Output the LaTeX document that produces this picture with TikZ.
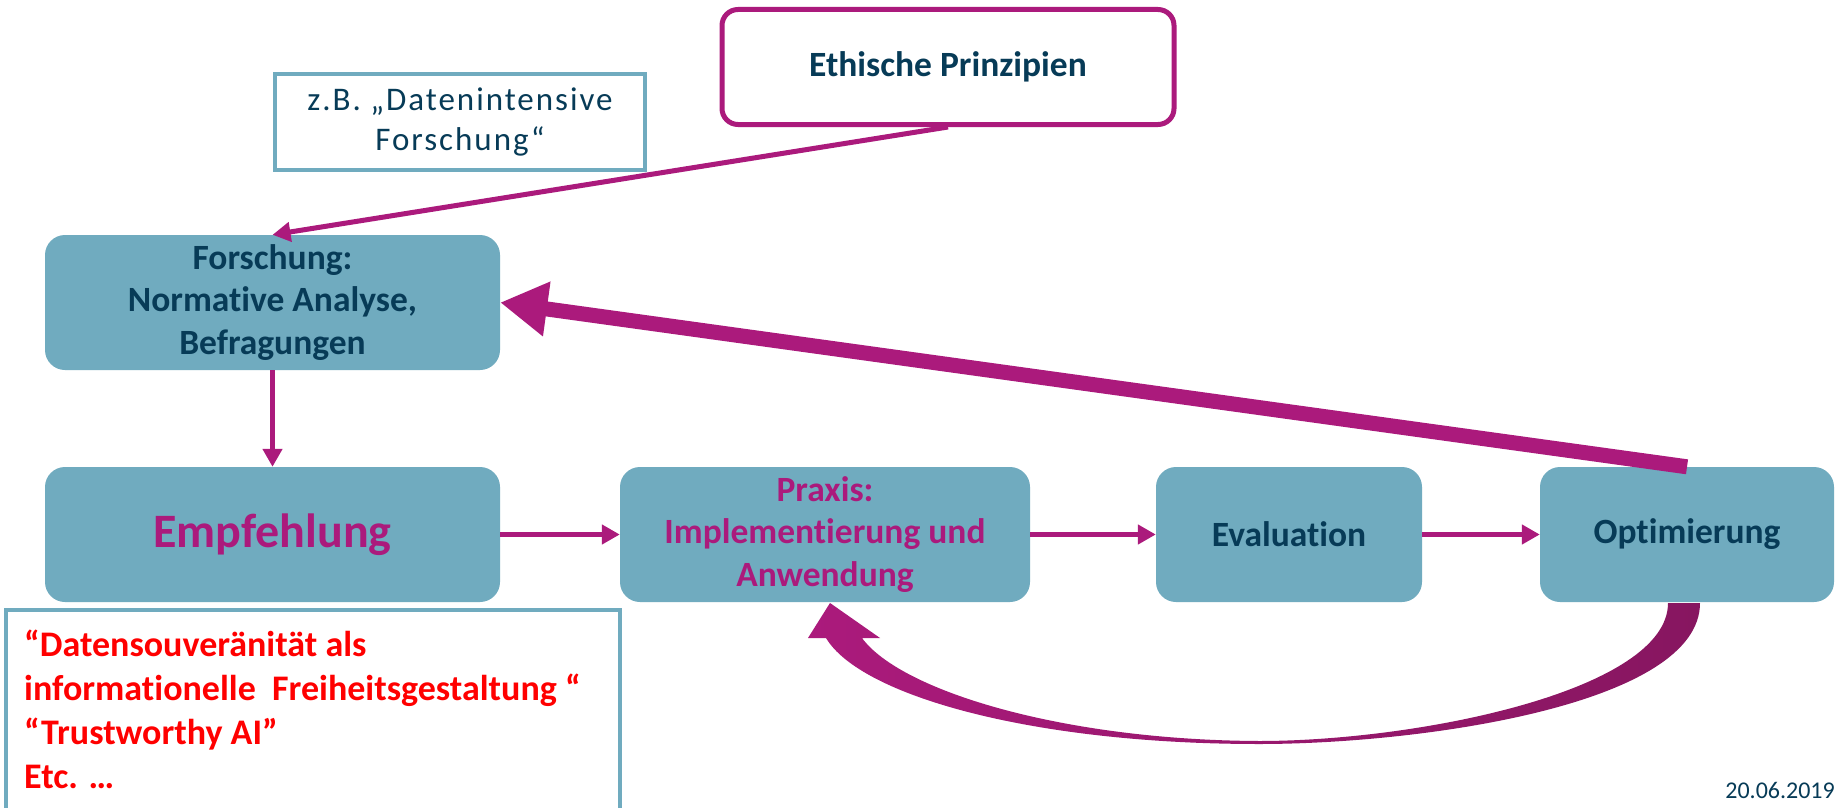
\documentclass[tikz,border=0pt]{standalone}
\usepackage{fontspec}
\setmainfont{Carlito}[Ligatures={NoCommon}]
\usetikzlibrary{arrows.meta}
\definecolor{tealbox}{HTML}{70ABBF}
\definecolor{navy}{HTML}{073B57}
\definecolor{magen}{HTML}{AB1A7C}
\definecolor{darkmag}{HTML}{871660}
\definecolor{redtxt}{HTML}{FF0000}
\begin{document}
\begin{tikzpicture}[x=1pt,y=-1pt,
  box/.style={fill=tealbox, rounded corners=20pt, inner sep=0pt, align=center,
    text=navy, font=\bfseries\fontsize{35.5}{42.5}\selectfont},
  thin/.style={draw=magen, line width=5pt, -{Triangle[length=18pt,width=19pt]}},
  thick/.style={draw=magen, line width=15pt, -{Triangle[length=47pt,width=52pt]}}]
\useasboundingbox (0,0) rectangle (1845,808);
\fill[white] (0,0) rectangle (1845,808);

\node[draw=magen, line width=5pt, rounded corners=16pt, minimum width=452pt, minimum height=115pt,
  inner sep=0pt, text=navy, font=\bfseries\fontsize{35.5}{42.5}\selectfont] (eth) at (948,67) {Ethische Prinzipien};

\node[draw=tealbox, line width=4pt, minimum width=370pt, minimum height=96pt, inner sep=0pt,
  align=center, text=navy, font=\fontsize{33}{40}\selectfont\addfontfeature{LetterSpace=6}] (zb) at (460,122)
  {z.B. „Datenintensive\\Forschung“};

\node[box, minimum width=455pt, minimum height=135pt] (fo) at (272.5,302.5)
  {Forschung:\\Normative Analyse,\\Befragungen};
\node[box, minimum width=455pt, minimum height=135pt, text=magen,
  font=\bfseries\fontsize{48}{56}\selectfont] (emp) at (272.5,534.5) {Empfehlung};
\node[box, minimum width=410pt, minimum height=135pt, text=magen] (prax) at (825,534.5)
  {Praxis:\\Implementierung und\\Anwendung};
\node[box, minimum width=266pt, minimum height=135pt] (eval) at (1289,534.5) {Evaluation};
\node[box, minimum width=294pt, minimum height=135pt] (opt) at (1687,534.5) {Optimierung};

% red text box (bottom edge outside the picture)
\draw[tealbox, line width=4pt] (6,820) -- (6,610) -- (620,610) -- (620,820);
\node[anchor=north west, align=left, inner sep=0pt, text=redtxt,
  font=\bfseries\fontsize{36}{44}\selectfont] (red) at (24,630)
  {“Datensouveränität als\\informationelle\ \ Freiheitsgestaltung “\\“Trustworthy AI”\\Etc. …};

\node[anchor=base east, inner sep=0pt, text=navy, font=\fontsize{24}{28}\selectfont] (date) at (1835,798) {20.06.2019};

% connectors
\draw[thin] (eth.south) -- (fo.north);
\draw[thin] (fo.south) -- (emp.north);
\draw[thin] (emp.east) -- (prax.west);
\draw[thin] (prax.east) -- (eval.west);
\draw[thin] (eval.east) -- (opt.west);
\draw[thick] (opt.north) -- (fo.east);

% curved tapered arrow from Optimierung back to Praxis
\shade[left color=magen, middle color=magen, right color=darkmag]
  (1700,603) .. controls (1700,705) and (1420,744) .. (1259,744)
  .. controls (1030,744) and (860,695) .. (826,638)
  -- (808,638) -- (830,603) -- (880,638) -- (862,638)
  .. controls (900,690) and (1060,740) .. (1259,741)
  .. controls (1420,741) and (1668,690) .. (1668,603) -- cycle;
\end{tikzpicture}
\end{document}
